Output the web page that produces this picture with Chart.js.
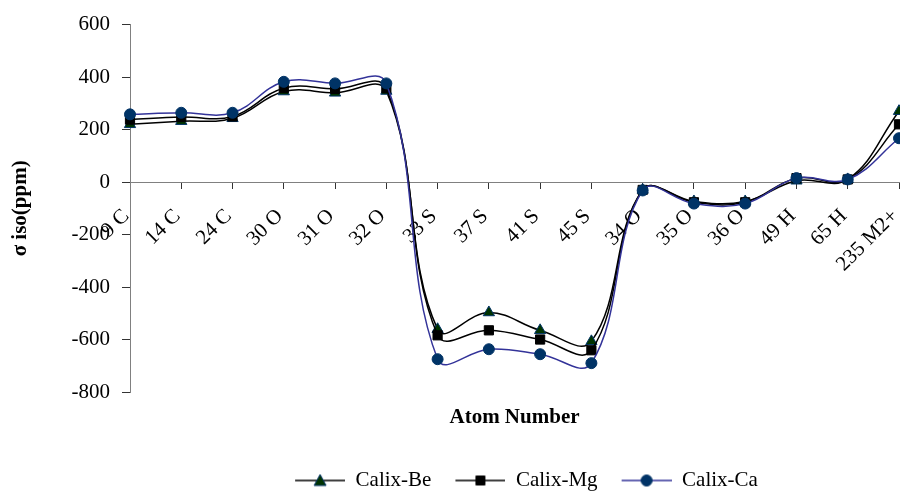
<!DOCTYPE html>
<html>
<head>
<meta charset="utf-8">
<script src="https://cdn.jsdelivr.net/npm/chart.js@4/dist/chart.umd.min.js"></script>
<style>
  html, body { margin: 0; padding: 0; background: #fff; overflow: hidden; }
  #wrap { width: 900px; height: 491px; position: relative; }
</style>
</head>
<body>
<div id="wrap"><canvas id="chart"></canvas></div>
<script>
// atom labels along the x axis
const atoms = ['9 C', '14 C', '24 C', '30 O', '31 O', '32 O', '33 S', '37 S', '41 S', '45 S',
               '34 O', '35 O', '36 O', '49 H', '65 H', '235 M2+'];

// sigma iso values (ppm)
const calixBe = [220, 232, 243, 345, 340, 347, -561, -497, -565, -607, -30, -74, -74, 5, 10, 270];
const calixMg = [238, 248, 250, 358, 355, 358, -584, -565, -600, -641, -30, -77, -77, 15, 10, 220];
const calixCa = [258, 264, 264, 382, 376, 376, -675, -637, -656, -690, -32, -82, -82, 15, 10, 167];

const yTicks = [-800, -600, -400, -200, 0, 200, 400, 600];

const serif = '"Liberation Serif", "Times New Roman", serif';

// line + marker picture for the legend, with some blank room in front
// so the entries are spaced out like in Excel
function legendIcon(style, fill, stroke, lineColor) {
    const c = document.createElement('canvas');
    c.width = 74; c.height = 16;
    const g = c.getContext('2d');
    g.strokeStyle = lineColor;
    g.lineWidth = 1.5;
    g.beginPath(); g.moveTo(24, 8); g.lineTo(74, 8); g.stroke();
    g.fillStyle = fill;
    g.strokeStyle = stroke;
    g.lineWidth = 1;
    g.beginPath();
    if (style === 'triangle') {
        g.moveTo(49, 2); g.lineTo(55, 13); g.lineTo(43, 13); g.closePath();
    } else if (style === 'rect') {
        g.rect(44.5, 3.5, 9, 9);
    } else {
        g.arc(49, 8, 5.5, 0, Math.PI * 2);
    }
    g.fill(); g.stroke();
    return c;
}

// no side padding on the scales, the last point sits on the right edge
function noSidePadding(scale) {
    scale.paddingLeft = 0;
    scale.paddingRight = 0;
}

const series = [
    { label: 'Calix-Be', data: calixBe, line: '#000000', fill: '#003300', stroke: '#003366', style: 'triangle', r: 6.5 },
    { label: 'Calix-Mg', data: calixMg, line: '#000000', fill: '#000000', stroke: '#000000', style: 'rect', r: 6.5 },
    { label: 'Calix-Ca', data: calixCa, line: '#333399', fill: '#003366', stroke: '#003366', style: 'circle', r: 5.5 }
];

new Chart(document.getElementById('chart'), {
    type: 'line',
    data: {
        labels: atoms,
        // Ca drawn first so Be ends up on top
        datasets: series.map(s => ({
            label: s.label,
            data: s.data,
            borderColor: s.line,
            borderWidth: 1.5,
            backgroundColor: s.fill,
            pointStyle: s.style,
            pointRadius: s.r,
            pointBackgroundColor: s.fill,
            pointBorderColor: s.stroke,
            pointBorderWidth: 1,
            tension: 0.4,
            clip: false,
            icon: legendIcon(s.style, s.fill, s.stroke, s.line)
        })).reverse()
    },
    options: {
        responsive: true,
        maintainAspectRatio: false,
        animation: false,
        layout: { autoPadding: false, padding: { top: 23, right: 1, left: 0, bottom: -10 } },
        plugins: {
            tooltip: { enabled: false },
            legend: {
                position: 'bottom',
                fullSize: false,
                labels: {
                    usePointStyle: true,
                    pointStyleWidth: 74,
                    padding: 0,
                    color: '#000',
                    font: { family: serif, size: 21 },
                    generateLabels(chart) {
                        return chart.data.datasets.map((ds, i) => ({
                            text: ds.label,
                            pointStyle: ds.icon,
                            fillStyle: ds.backgroundColor,
                            strokeStyle: ds.borderColor,
                            lineWidth: 0,
                            datasetIndex: i,
                            hidden: false,
                            fontColor: '#000'
                        })).reverse();
                    }
                }
            }
        },
        scales: {
            x: {
                type: 'category',
                offset: false,
                grid: { display: false },
                border: { display: false },
                ticks: { display: false },
                title: {
                    display: true,
                    text: 'Atom Number',
                    color: '#000',
                    font: { family: serif, size: 21, weight: 'bold' },
                    padding: { top: 0, bottom: 40 }
                },
                afterFit(scale) {
                    scale.height = 78;
                    noSidePadding(scale);
                }
            },
            x2: {
                type: 'category',
                labels: atoms,
                offset: false,
                position: { y: 0 },
                grid: { drawOnChartArea: false, drawTicks: true, tickLength: 6, color: '#333' },
                border: { display: true, color: '#808080', width: 1 },
                ticks: {
                    autoSkip: false,
                    minRotation: 45,
                    maxRotation: 45,
                    padding: 16,
                    labelOffset: -4,
                    color: '#000',
                    font: { family: serif, size: 21 }
                },
                afterFit: noSidePadding
            },
            y: {
                min: -800,
                max: 600,
                afterBuildTicks(scale) { scale.ticks = yTicks.map(v => ({ value: v })); },
                grid: { drawOnChartArea: false, drawTicks: true, tickLength: 8, color: '#333' },
                border: { display: true, color: '#808080', width: 1 },
                ticks: {
                    padding: 12,
                    color: '#000',
                    font: { family: serif, size: 21 }
                },
                title: {
                    display: true,
                    text: 'σ iso(ppm)',
                    color: '#000',
                    font: { family: serif, size: 21, weight: 'bold' },
                    padding: { top: 8, bottom: 0 }
                },
                afterFit(scale) { scale.width = 130; }
            }
        }
    }
});
</script>
</body>
</html>
